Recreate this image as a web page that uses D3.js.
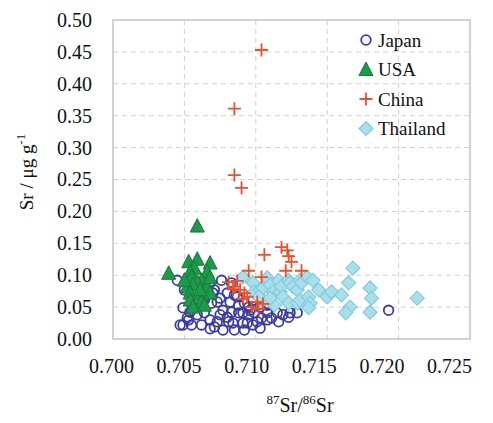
<!DOCTYPE html>
<html><head><meta charset="utf-8">
<script src="https://cdn.jsdelivr.net/npm/d3@7"></script>
<style>
body{margin:0;background:#fff;}
svg text{font-family:"Liberation Serif","Times New Roman",serif;fill:#111;}
</style></head>
<body><svg id="c" width="493" height="423"></svg>
<script>
// ---- data (87Sr/86Sr, Sr µg/g) ----
const japanX = [0.7045,0.7050,0.7049,0.7052,0.7049,0.7055,0.7054,0.7059,0.7057,0.7062,0.7064,0.7064,0.7068,0.7068,0.7068,0.7069,0.7070,0.7071,0.7071,0.7073,0.7073,0.7075,0.7075,0.7076,0.7077,0.7077,0.7080,0.7080,0.7081,0.7082,0.7083,0.7083,0.7084,0.7085,0.7085,0.7087,0.7088,0.7088,0.7091,0.7091,0.7092,0.7092,0.7094,0.7095,0.7095,0.7096,0.7098,0.7098,0.7099,0.7101,0.7103,0.7103,0.7104,0.7108,0.7108,0.7108,0.7111,0.7115,0.7116,0.7119,0.7123,0.7124,0.7129,0.7047,0.7053,0.7193];
const japanY = [0.092,0.077,0.049,0.033,0.022,0.022,0.042,0.038,0.050,0.022,0.041,0.061,0.030,0.016,0.088,0.056,0.072,0.019,0.077,0.058,0.027,0.038,0.064,0.092,0.014,0.045,0.072,0.034,0.027,0.058,0.088,0.042,0.025,0.069,0.014,0.066,0.053,0.041,0.025,0.041,0.056,0.014,0.025,0.050,0.038,0.045,0.061,0.022,0.041,0.027,0.050,0.017,0.033,0.053,0.041,0.030,0.033,0.041,0.027,0.038,0.034,0.041,0.041,0.022,0.030,0.045];

const usaX = [0.7059,0.7039,0.7053,0.7059,0.7068,0.7057,0.7066,0.7054,0.7055,0.7062,0.7059,0.7056,0.7066,0.7052,0.7054,0.7061,0.7068,0.7054,0.7062,0.7056,0.7064,0.7068,0.7061,0.7050];
const usaY = [0.177,0.103,0.121,0.125,0.119,0.111,0.105,0.105,0.097,0.092,0.089,0.085,0.082,0.082,0.072,0.069,0.072,0.061,0.058,0.050,0.053,0.096,0.077,0.092];

const chinaX = [0.7104,0.7085,0.7085,0.7090,0.7106,0.7118,0.7122,0.7123,0.7125,0.7121,0.7132,0.7095,0.7104,0.7081,0.7085,0.7089,0.7094,0.7101,0.7105,0.7091,0.7097,0.7087,0.7084,0.7092,0.7102];
const chinaY = [0.453,0.361,0.257,0.237,0.132,0.144,0.139,0.130,0.121,0.107,0.107,0.107,0.097,0.089,0.082,0.077,0.066,0.058,0.055,0.063,0.050,0.091,0.078,0.072,0.047];

const thaiX = [0.7091,0.7098,0.7099,0.7103,0.7105,0.7105,0.7108,0.7110,0.7112,0.7113,0.7116,0.7117,0.7118,0.7119,0.7123,0.7123,0.7124,0.7126,0.7129,0.7129,0.7131,0.7132,0.7131,0.7136,0.7137,0.7138,0.7137,0.7140,0.7144,0.7150,0.7153,0.7160,0.7165,0.7168,0.7166,0.7163,0.7180,0.7181,0.7180,0.7213,0.7102,0.7110];
const thaiY = [0.097,0.088,0.074,0.077,0.080,0.061,0.096,0.085,0.074,0.053,0.092,0.074,0.082,0.066,0.092,0.056,0.088,0.082,0.077,0.056,0.092,0.088,0.061,0.097,0.066,0.056,0.049,0.092,0.077,0.066,0.074,0.069,0.088,0.111,0.050,0.041,0.080,0.064,0.042,0.064,0.066,0.064];

const xTicks = [0.700,0.705,0.710,0.715,0.720,0.725];
const yTicks = [0.00,0.05,0.10,0.15,0.20,0.25,0.30,0.35,0.40,0.45,0.50];
const legendNames = ["Japan","USA","China","Thailand"];

// ---- layout ----
const svg = d3.select("#c");
const L=113,R=470,T=20,B=339;
const x = d3.scaleLinear().domain([0.700,0.725]).range([L,R]);
const xLab = d3.scaleLinear().domain([0.700,0.725]).range([111,449]);
const y = d3.scaleLinear().domain([0,0.5]).range([B,T]);

svg.append("rect").attr("width",493).attr("height",423).attr("fill","#fff");

// grid
const grid = svg.append("g");
grid.selectAll("line.h").data(yTicks.slice(1,-1)).enter().append("line")
  .attr("x1",L).attr("x2",R).attr("y1",d=>y(d)).attr("y2",d=>y(d))
  .attr("stroke","#cfcfcf").attr("stroke-width",1).attr("stroke-dasharray","5,4");
grid.selectAll("line.v").data(xTicks.slice(1,-1)).enter().append("line")
  .attr("y1",T).attr("y2",B).attr("x1",d=>x(d)).attr("x2",d=>x(d))
  .attr("stroke","#cfcfcf").attr("stroke-width",1).attr("stroke-dasharray","5,4");

// frame
svg.append("rect").attr("x",L).attr("y",T).attr("width",R-L).attr("height",B-T)
  .attr("fill","none").attr("stroke","#c4c4c4").attr("stroke-width",1.5);

// axes (labels only)
const ya = svg.append("g").attr("transform",`translate(${L},0)`)
  .call(d3.axisLeft(y).tickValues(yTicks).tickFormat(d3.format(".2f")).tickSize(0).tickPadding(21));
ya.select(".domain").remove();
ya.selectAll("text").style("font-size","20px").attr("fill","#111");

const xa = svg.append("g").attr("transform",`translate(0,${B})`)
  .call(d3.axisBottom(xLab).tickValues(xTicks).tickFormat(d3.format(".3f")).tickSize(0).tickPadding(20));
xa.select(".domain").remove();
xa.selectAll("text").style("font-size","20px").attr("fill","#111");

// axis titles
const xt = svg.append("text").attr("x",300).attr("y",412).attr("text-anchor","middle").style("font-size","20px");
xt.append("tspan").text("87").style("font-size","13px").attr("dy","-8");
xt.append("tspan").text("Sr/").attr("dy","8");
xt.append("tspan").text("86").style("font-size","13px").attr("dy","-8");
xt.append("tspan").text("Sr").attr("dy","8");

const yt = svg.append("text").attr("transform","translate(33,172) rotate(-90)").attr("text-anchor","middle").style("font-size","19px");
yt.append("tspan").text("Sr / μg g");
yt.append("tspan").text("-1").style("font-size","13px").attr("dy","-8");

// markers
const sym = {
  Japan:(g)=>g.append("circle").attr("r",4.8).attr("fill","none").attr("stroke","#3b3ba0").attr("stroke-width",1.8),
  USA:(g)=>g.append("path").attr("d","M0,-7.5L7,6L-7,6Z").attr("fill","#1e9a4c").attr("stroke","#157a38").attr("stroke-width",1),
  China:(g)=>g.append("path").attr("d","M-6.5,0H6.5M0,-6.5V6.5").attr("fill","none").attr("stroke","#e8502e").attr("stroke-width",1.8),
  Thailand:(g)=>g.append("path").attr("d","M0,-7L7,0L0,7L-7,0Z").attr("fill","#a9dfea").attr("stroke","#80cbdc").attr("stroke-width",1.2)
};
function draw(name,xs,ys){
  const g = svg.append("g");
  xs.forEach((v,i)=>{
    const m = g.append("g").attr("transform",`translate(${x(v)},${y(ys[i])})`);
    sym[name](m);
  });
}
draw("Japan",japanX,japanY);
draw("Thailand",thaiX,thaiY);
draw("USA",usaX,usaY);
draw("China",chinaX,chinaY);

// legend
const lg = svg.append("g");
legendNames.forEach((n,i)=>{
  const cy = 40 + i*29.5;
  const m = lg.append("g").attr("transform",`translate(366,${cy})`);
  sym[n](m);
  lg.append("text").attr("x",378).attr("y",cy+6.5).style("font-size","19px").text(n);
});
</script></body></html>
